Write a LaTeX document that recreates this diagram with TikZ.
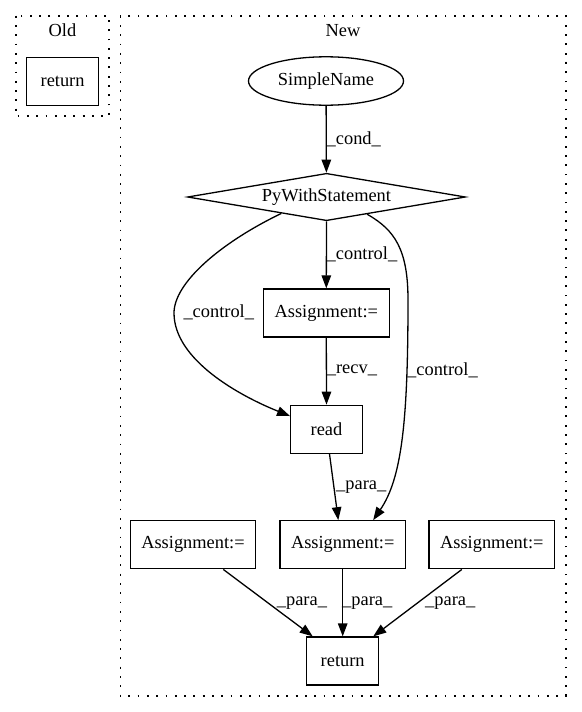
\documentclass[tikz,border=0pt]{standalone}
\usepackage{fontspec}
\setmainfont{Liberation Serif}
\usetikzlibrary{arrows.meta,shapes.geometric}
\begin{document}
\begin{tikzpicture}[x=1pt,y=-1pt,
  every node/.style={font=\fontsize{18.4}{22}\selectfont},
  box/.style={draw,line width=1.3pt,rectangle,minimum height=48pt,inner sep=0pt},
  edge/.style={draw,line width=1.3pt,-{Triangle[length=13pt,width=9.5pt]}},
  lbl/.style={anchor=west,inner sep=0pt},
  cluster/.style={draw,line width=1.8pt,dash pattern=on 1.8pt off 7.5pt}]
\useasboundingbox (0,0) rectangle (581,712);
% clusters
\draw[cluster] (15.6,15.7) rectangle (109.3,116);
\node (oldlbl) at (62.4,30.7) {Old};
\draw[cluster] (120.4,15.7) rectangle (565.6,696);
\node (newlbl) at (343,30.7) {New};
% nodes
\node[box,minimum width=72pt] (oldret) at (62.6,81.3) {return};
\node[draw,line width=1.3pt,ellipse,minimum width=155pt,minimum height=48.4pt,inner sep=0pt] (sn) at (326,81) {SimpleName};
\node[draw,line width=1.3pt,diamond,shape aspect=5.86,minimum width=278pt,minimum height=47.4pt,inner sep=0pt] (pws) at (326.5,197) {PyWithStatement};
\node[box,minimum width=126pt] (a1) at (326.3,313) {Assignment:=};
\node[box,minimum width=71.6pt] (read) at (326.5,429.3) {read};
\node[box,minimum width=125.3pt] (a3) at (193,544.8) {Assignment:=};
\node[box,minimum width=125.3pt] (a2) at (342.7,544.8) {Assignment:=};
\node[box,minimum width=125.7pt] (a4) at (491.8,544.8) {Assignment:=};
\node[box,minimum width=72pt] (ret) at (342.7,661) {return};
% edges
\draw[edge] (sn) -- (pws);
\node[lbl] (lcond) at (326.5,139) {\_cond\_};
\draw[edge] (pws.south) -- (a1.north);
\node[lbl] (lctl1) at (326.5,254) {\_control\_};
\draw[edge] (pws.200) .. controls (220,243) and (174,283) .. (174,313)
   .. controls (174,360) and (240,396) .. (read.160);
\node[lbl] (lctl2) at (183.3,312.7) {\_control\_};
\draw[edge] (pws.-23) .. controls (395,230) and (408,250) .. (408,300)
   .. controls (408,420) and (402,478) .. (a2.39);
\node[lbl] (lctl3) at (407,370.7) {\_control\_};
\draw[edge] (a1.south) -- (read.north);
\node[lbl] (lrecv) at (326.7,370.7) {\_recv\_};
\draw[edge] ([xshift=3pt]read.south) -- ([xshift=-4.4pt]a2.north);
\node[lbl] (lpara1) at (336,486.7) {\_para\_};
\draw[edge] ([xshift=30.3pt]a3.south) -- ([xshift=-30pt]ret.north);
\node[lbl] (lpara2) at (276.7,603.3) {\_para\_};
\draw[edge] (a2.south) -- (ret.north);
\node[lbl] (lpara3) at (342,603.3) {\_para\_};
\draw[edge] ([xshift=-30pt]a4.south) -- ([xshift=30.6pt]ret.north);
\node[lbl] (lpara4) at (425,603.3) {\_para\_};
\end{tikzpicture}
\end{document}
